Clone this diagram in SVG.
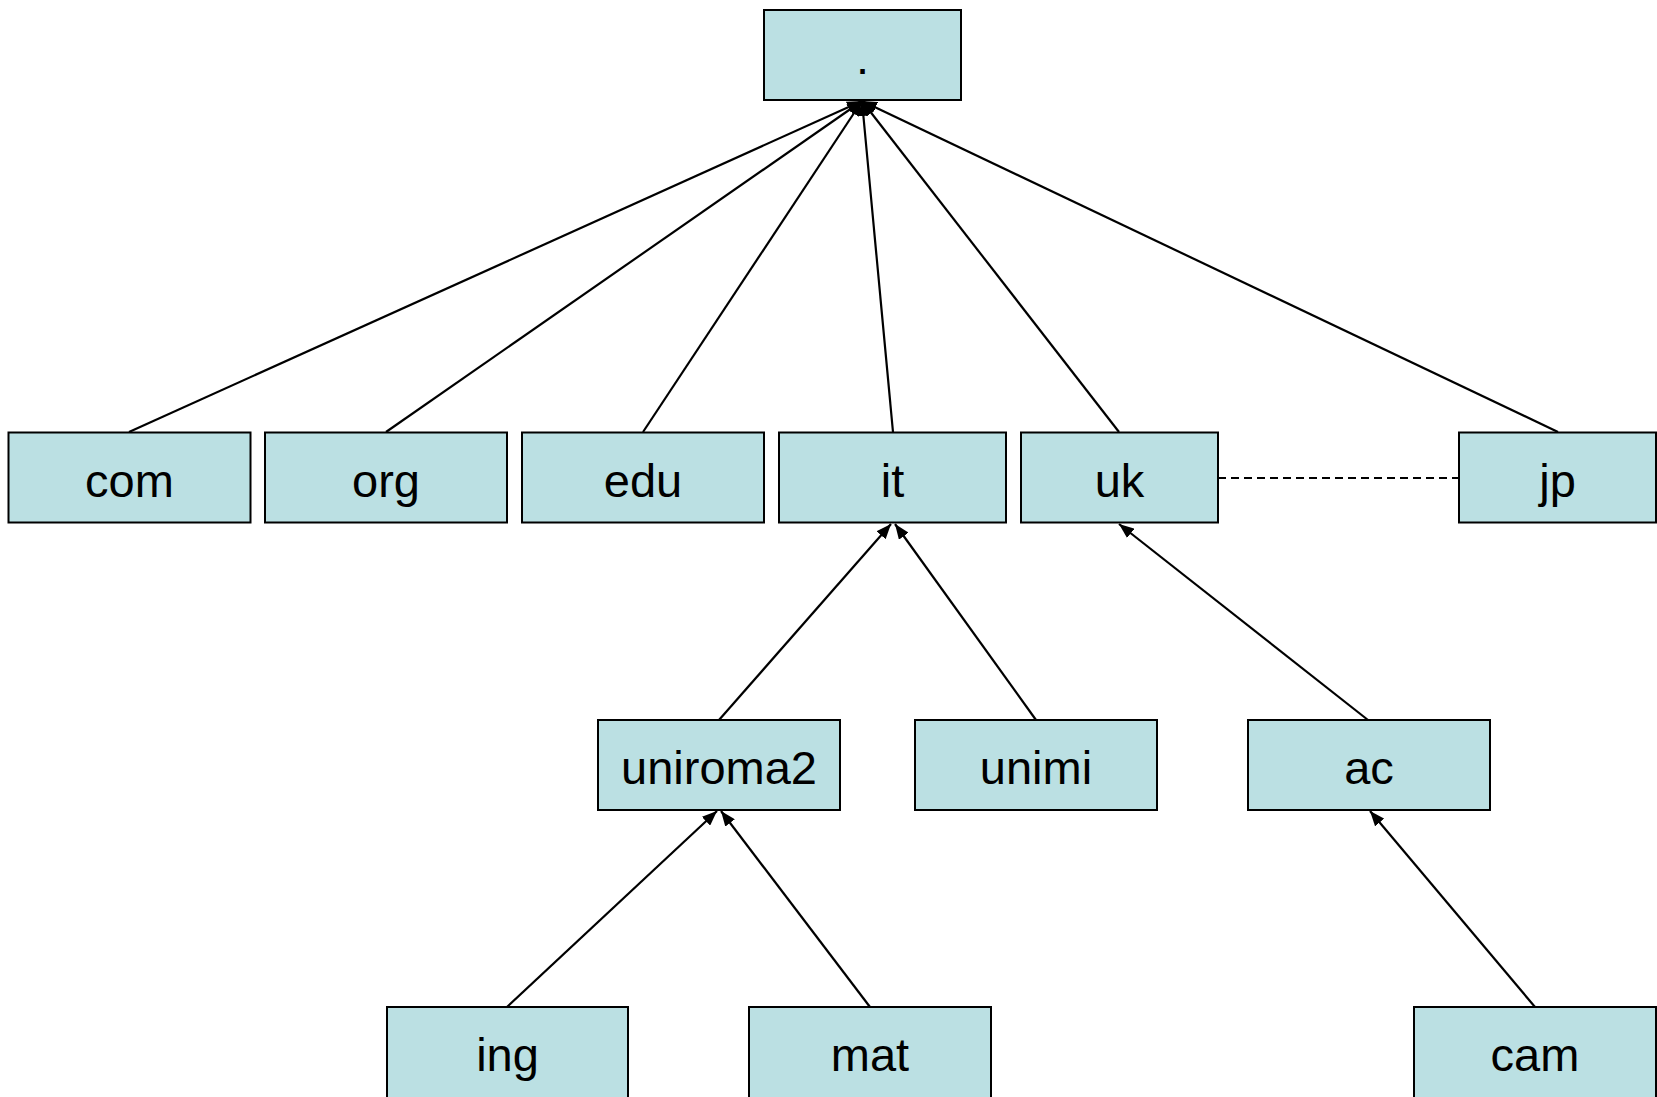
<svg xmlns="http://www.w3.org/2000/svg" width="1657" height="1097" viewBox="0 0 1657 1097">
<style>
.box{fill:#BBE0E3;stroke:#000;stroke-width:2}
.lbl{font-family:"Liberation Sans",Arial,sans-serif;font-size:47px;fill:#000;text-anchor:middle}
.edge{stroke:#000;stroke-width:2.2;fill:none}
.dash{stroke:#000;stroke-width:1.8;fill:none;stroke-dasharray:8,5}
</style>
<defs>
<marker id="arr" viewBox="0 0 15 12" refX="15" refY="6" markerWidth="15" markerHeight="12" markerUnits="userSpaceOnUse" orient="auto">
<path d="M0,0 L15,6 L0,12 Z" fill="#000"/>
</marker>
</defs>
<rect width="1657" height="1097" fill="#fff"/>
<g id="connectors">
<line class="edge" x1="129" y1="432" x2="862" y2="101" marker-end="url(#arr)"/>
<line class="edge" x1="386" y1="432" x2="862" y2="101" marker-end="url(#arr)"/>
<line class="edge" x1="643" y1="432" x2="862" y2="101" marker-end="url(#arr)"/>
<line class="edge" x1="893" y1="432" x2="862" y2="101" marker-end="url(#arr)"/>
<line class="edge" x1="1119" y1="432" x2="862" y2="101" marker-end="url(#arr)"/>
<line class="edge" x1="1558" y1="432" x2="862" y2="101" marker-end="url(#arr)"/>
<line class="edge" x1="719" y1="720" x2="891" y2="524" marker-end="url(#arr)"/>
<line class="edge" x1="1036" y1="720" x2="895" y2="524" marker-end="url(#arr)"/>
<line class="edge" x1="1368" y1="720" x2="1119" y2="524" marker-end="url(#arr)"/>
<line class="edge" x1="507" y1="1007" x2="717" y2="811" marker-end="url(#arr)"/>
<line class="edge" x1="870" y1="1007" x2="721" y2="811" marker-end="url(#arr)"/>
<line class="edge" x1="1535" y1="1007" x2="1370" y2="811" marker-end="url(#arr)"/>
<line class="dash" x1="1218" y1="478" x2="1459" y2="478"/>
</g>
<g id="root"><rect class="box" x="764" y="10" width="197" height="90"/><text class="lbl" x="862.5" y="74">.</text></g>
<g id="com"><rect class="box" x="8.5" y="432.5" width="242" height="90"/><text class="lbl" x="129.5" y="497">com</text></g>
<g id="org"><rect class="box" x="265" y="432.5" width="242" height="90"/><text class="lbl" x="386" y="497">org</text></g>
<g id="edu"><rect class="box" x="522" y="432.5" width="242" height="90"/><text class="lbl" x="643" y="497">edu</text></g>
<g id="it"><rect class="box" x="779" y="432.5" width="227" height="90"/><text class="lbl" x="892.5" y="497">it</text></g>
<g id="uk"><rect class="box" x="1021" y="432.5" width="197" height="90"/><text class="lbl" x="1119.5" y="497">uk</text></g>
<g id="jp"><rect class="box" x="1459" y="432.5" width="197" height="90"/><text class="lbl" x="1557.5" y="497">jp</text></g>
<g id="uniroma2"><rect class="box" x="598" y="720" width="242" height="90"/><text class="lbl" x="719" y="784">uniroma2</text></g>
<g id="unimi"><rect class="box" x="915" y="720" width="242" height="90"/><text class="lbl" x="1036" y="784">unimi</text></g>
<g id="ac"><rect class="box" x="1248" y="720" width="242" height="90"/><text class="lbl" x="1369" y="784">ac</text></g>
<g id="ing"><rect class="box" x="387" y="1007" width="241" height="100"/><text class="lbl" x="507.5" y="1071">ing</text></g>
<g id="mat"><rect class="box" x="749" y="1007" width="242" height="100"/><text class="lbl" x="870" y="1071">mat</text></g>
<g id="cam"><rect class="box" x="1414" y="1007" width="242" height="100"/><text class="lbl" x="1535" y="1071">cam</text></g>
</svg>
